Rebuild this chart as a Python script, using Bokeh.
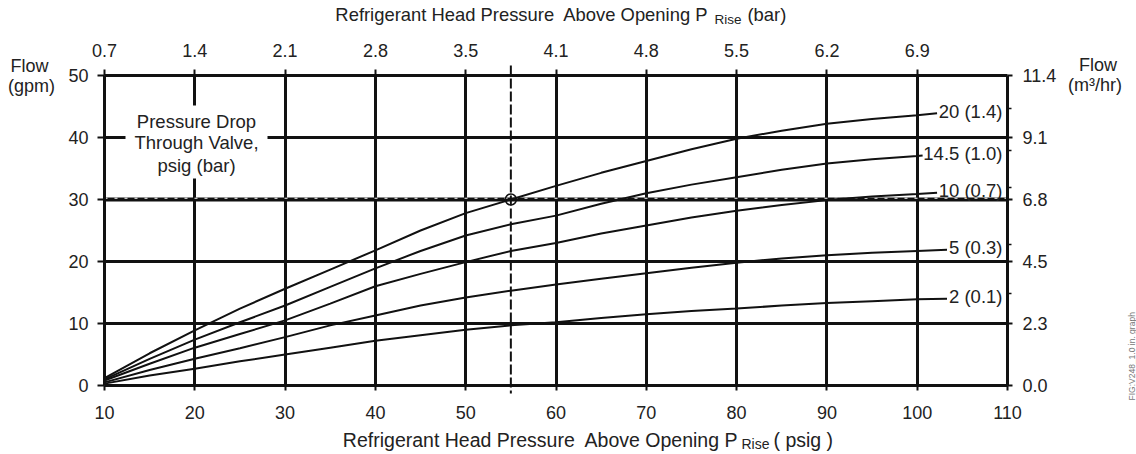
import numpy as np
from bokeh.plotting import figure
from bokeh.layouts import column
from bokeh.models import LinearAxis, FixedTicker, Label, Range1d, Grid
from bokeh.embed import file_html
from bokeh.resources import INLINE

# ---------------- data ----------------
pressure_psig = [10, 15, 20, 25, 30, 35, 40, 45, 50, 55, 60, 65, 70, 75, 80, 85, 90, 95, 100]
flow_20 = [1.2, 5.2, 8.9, 12.4, 15.6, 18.7, 21.8, 25.0, 27.8, 30.0, 32.2, 34.3, 36.2, 38.1, 39.8, 41.1, 42.2, 43.0, 43.6]
flow_14_5 = [1.0, 4.3, 7.4, 10.2, 12.9, 15.9, 18.9, 21.7, 24.2, 26.0, 27.4, 29.3, 31.0, 32.4, 33.6, 34.8, 35.8, 36.5, 37.0]
flow_10 = [0.8, 3.5, 6.1, 8.3, 10.5, 13.2, 16.0, 18.0, 19.9, 21.7, 23.0, 24.5, 25.8, 27.1, 28.2, 29.1, 29.9, 30.5, 30.9]
flow_5 = [0.5, 2.5, 4.3, 6.0, 7.8, 9.7, 11.3, 12.9, 14.2, 15.3, 16.3, 17.2, 18.1, 19.0, 19.8, 20.5, 21.0, 21.4, 21.7]
flow_2 = [0.3, 1.6, 2.7, 3.9, 5.0, 6.1, 7.2, 8.1, 9.0, 9.7, 10.2, 10.9, 11.5, 12.0, 12.4, 12.9, 13.3, 13.6, 13.9]
series_flows = [flow_20, flow_14_5, flow_10, flow_5, flow_2]
series_labels = ["20 (1.4)", "14.5 (1.0)", "10 (0.7)", "5 (0.3)", "2 (0.1)"]
series_end_psig = [102.2, 100.6, 102.2, 103.3, 103.3]
series_end_flow = [43.9, 37.1, 31.1, 21.9, 14.0]

bottom_ticks = [10, 20, 30, 40, 50, 60, 70, 80, 90, 100, 110]
top_ticks = [10, 20, 30, 40, 50, 60, 70, 80, 90, 100]
top_labels_bar = ["0.7", "1.4", "2.1", "2.8", "3.5", "4.1", "4.8", "5.5", "6.2", "6.9"]
flow_ticks = [0, 10, 20, 30, 40, 50]
right_labels_m3hr = ["0.0", "2.3", "4.5", "6.8", "9.1", "11.4"]

op_psig = 55
op_flow = 30

# ---------------- layout helpers (canvas pixels -> data) ----------------
W, H = 1136, 454
FRAME_L, FRAME_R, FRAME_T, FRAME_B = 104, 1007, 75, 385

def dx(px):
    return 10 + (px - FRAME_L) * 100 / (FRAME_R - FRAME_L)

def dy(py):
    return (FRAME_B - py) * 50 / (FRAME_B - FRAME_T)

FONT = "Liberation Sans"
TXT = "#222222"
INK = "#111111"

p = figure(width=W, height=H, x_range=Range1d(10, 110), y_range=Range1d(0, 50),
           output_backend="svg", toolbar_location=None,
           x_axis_location=None, y_axis_location=None,
           min_border_left=FRAME_L, min_border_right=W - FRAME_R,
           min_border_top=FRAME_T, min_border_bottom=H - FRAME_B)
p.frame_align = False
p.grid.visible = False
p.outline_line_color = None
p.background_fill_color = "white"
p.border_fill_color = "white"

def style_axis(ax, tick_out, standoff):
    ax.axis_line_width = 3
    ax.axis_line_color = INK
    ax.major_tick_line_width = 2
    ax.major_tick_line_color = INK
    ax.major_tick_out = tick_out
    ax.major_tick_in = 0
    ax.minor_tick_out = 0
    ax.minor_tick_in = 0
    ax.major_label_text_font = FONT
    ax.major_label_text_font_size = "18px"
    ax.major_label_text_color = TXT
    ax.major_label_standoff = standoff

bottom = LinearAxis(ticker=FixedTicker(ticks=bottom_ticks))
style_axis(bottom, 5, 15)
p.add_layout(bottom, "below")

left = LinearAxis(ticker=FixedTicker(ticks=flow_ticks))
style_axis(left, 7, 9)
p.add_layout(left, "left")

top = LinearAxis(ticker=FixedTicker(ticks=top_ticks),
                 major_label_overrides={t: l for t, l in zip(top_ticks, top_labels_bar)})
style_axis(top, 6, 13)
p.add_layout(top, "above")

label_ticks = [f + 0.8 for f in series_end_flow]
right = LinearAxis(ticker=FixedTicker(ticks=flow_ticks, minor_ticks=label_ticks),
                   major_label_overrides={t: l for t, l in zip(flow_ticks, right_labels_m3hr)})
style_axis(right, 5, 10)
right.minor_tick_out = 4
right.minor_tick_line_width = 1.5
right.minor_tick_line_color = INK
p.add_layout(right, "right")

gx = Grid(dimension=0, ticker=FixedTicker(ticks=bottom_ticks[1:-1]),
          grid_line_color=INK, grid_line_width=3)
gy = Grid(dimension=1, ticker=FixedTicker(ticks=flow_ticks[1:-1]),
          grid_line_color=INK, grid_line_width=3)
p.add_layout(gx)
p.add_layout(gy)

# white box behind the legend-title text
p.quad(left=[dx(125)], right=[dx(267)], top=[dy(105)], bottom=[dy(178)],
       fill_color="white", line_color=None)

# operating-point reference line (thick with light dashes)
xr = [p.x_range.start, p.x_range.end]
p.line(xr, [op_flow, op_flow], line_color=INK, line_width=4)
p.line(xr, [op_flow + 0.2, op_flow + 0.2], line_color="white", line_width=1.2, line_dash="3 7")

# curves
for flows, ex, ey in zip(series_flows, series_end_psig, series_end_flow):
    p.line(pressure_psig + [ex], flows + [ey], line_color=INK, line_width=2)

# curve labels
for lab, ey in zip(series_labels, series_end_flow):
    p.add_layout(Label(x=dx(1002), y=ey + 0.3, text=lab, text_align="right",
                       text_baseline="middle", text_font=FONT, text_font_size="18.5px",
                       text_color=TXT))

p.scatter([op_psig], [op_flow], marker="circle", size=11, fill_alpha=0,
          line_color=INK, line_width=1.5)

def text(fig, x, y, s, size="18px", align="left", color=TXT, angle=0):
    fig.add_layout(Label(x=x, y=y, text=s, text_align=align, text_baseline="middle",
                         text_font=FONT, text_font_size=size, text_color=color, angle=angle))

# box text (y = visual middle of each line)
text(p, dx(196), dy(120.5), "Pressure Drop", "18.5px", "center")
text(p, dx(196), dy(141.5), "Through Valve,", "18.5px", "center")
text(p, dx(196), dy(164.5), "psig (bar)", "18.5px", "center")

# ---------------- transparent overlay for texts outside the plot frame ----------------
q = figure(width=W, height=H, x_range=Range1d(dx(0), dx(W)), y_range=Range1d(dy(H), dy(0)),
           output_backend="svg", toolbar_location=None,
           x_axis_location=None, y_axis_location=None,
           min_border_left=0, min_border_right=0, min_border_top=0, min_border_bottom=0,
           margin=(-H, 0, 0, 0))
q.frame_align = False
q.grid.visible = False
q.outline_line_color = None
q.background_fill_alpha = 0
q.border_fill_alpha = 0

# vertical dashed operating line (extends beyond the frame)
q.line([op_psig, op_psig], [dy(65), dy(393)], line_dash="10 3", line_width=2, line_color=INK)

# axis titles
text(q, dx(708), dy(13.5), "Refrigerant Head Pressure\u00a0 Above Opening P", "18.4px", "right")
text(q, dx(714), dy(18.5), "Rise", "13.5px")
text(q, dx(747), dy(13.5), "(bar)", "18.4px")

text(q, dx(738), dy(439), "Refrigerant Head Pressure\u00a0 Above Opening P", "19.5px", "right")
text(q, dx(741), dy(443), "Rise", "14px")
text(q, dx(773), dy(439), "( psig )", "19.5px")

text(q, dx(29), dy(65.5), "Flow", "18px", "center")
text(q, dx(31), dy(85.5), "(gpm)", "18px", "center")
text(q, dx(1097.5), dy(64.5), "Flow", "18px", "center")
text(q, dx(1094.5), dy(84.5), "(m\u00b3/hr)", "18px", "center")

text(q, dx(1131), dy(400), "FIG:V248_1.0 in. graph", "8.5px", "left", color="#777777", angle=np.pi / 2)

layout = column(p, q)
open("out.html", "w").write(file_html(layout, INLINE))
